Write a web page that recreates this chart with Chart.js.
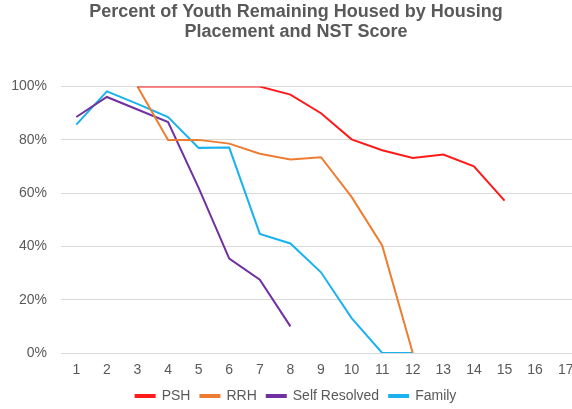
<!DOCTYPE html>
<html>
<head>
<meta charset="utf-8">
<script src="https://cdn.jsdelivr.net/npm/chart.js@4"></script>
<style>
  body { margin: 0; overflow: hidden; background: #fff; }
  #wrap { width: 600px; height: 409px; }
</style>
</head>
<body>
<div id="wrap"><canvas id="chart" width="600" height="409"></canvas></div>
<script>
// NST scores on the x axis
const scores = ['1', '2', '3', '4', '5', '6', '7', '8', '9', '10', '11', '12', '13', '14', '15', '16', '17'];

// percent remaining housed
const psh = [null, null, 100, 100, 100, 100, 100, 97, 90, 80.2, 76.1, 73.2, 74.5, 70.1, 57.2, null, null];
const rrh = [null, null, 100, 80, 80, 78.6, 74.8, 72.6, 73.5, 58.6, 40.4, 0, null, null, null, null, null];
const selfResolved = [88.6, 96.1, 91.4, 86.7, 62, 35.4, 27.5, 10, null, null, null, null, null, null, null, null, null];
const family = [85.7, 98.2, 93.5, 88.6, 77, 77.1, 44.7, 41.1, 30.3, 13.1, 0, 0, null, null, null, null, null];

const yTicks = [0, 20, 40, 60, 80, 100];

Chart.defaults.font.family = "'Liberation Sans', Arial, Helvetica, sans-serif";
Chart.defaults.color = '#595959';

function series(label, data, color) {
    return {
        label: label,
        data: data,
        borderColor: color,
        backgroundColor: color,
        borderWidth: 2,
        pointRadius: 0,
        tension: 0,
        fill: false
    };
}

const ctx = document.getElementById('chart').getContext('2d');
new Chart(ctx, {
    type: 'line',
    data: {
        labels: scores,
        datasets: [
            series('PSH', psh, '#ff1a1a'),
            series('RRH', rrh, '#ed7d31'),
            series('Self Resolved', selfResolved, '#7030a0'),
            series('Family', family, '#1ab2ee')
        ]
    },
    options: {
        responsive: false,
        animation: false,
        layout: {
            padding: { left: 11, right: 19, top: 0, bottom: -4 }
        },
        plugins: {
            title: {
                display: true,
                text: ['Percent of Youth Remaining Housed by Housing', 'Placement and NST Score'],
                font: { size: 18, weight: 'bold', lineHeight: 1.1 },
                color: '#595959',
                padding: { top: 2, bottom: 45 }
            },
            legend: {
                position: 'bottom',
                labels: {
                    boxWidth: 19,
                    boxHeight: 2,
                    font: { size: 14 },
                    color: '#595959',
                    padding: 10
                }
            },
            tooltip: { enabled: false }
        },
        scales: {
            x: {
                offset: true,
                grid: { display: false, drawTicks: false },
                border: { display: false },
                ticks: { font: { size: 14 }, padding: 9, maxRotation: 0, autoSkip: false },
                afterFit: axis => { axis.height = 26; }
            },
            y: {
                min: 0,
                max: 100,
                afterBuildTicks: axis => { axis.ticks = yTicks.map(v => ({ value: v })); },
                grid: { color: '#d9d9d9', drawTicks: false, lineWidth: 1 },
                border: { display: false },
                ticks: {
                    font: { size: 14 },
                    padding: 14,
                    callback: v => v + '%'
                },
                afterFit: axis => { axis.width = 50; }
            }
        }
    }
});
</script>
</body>
</html>
